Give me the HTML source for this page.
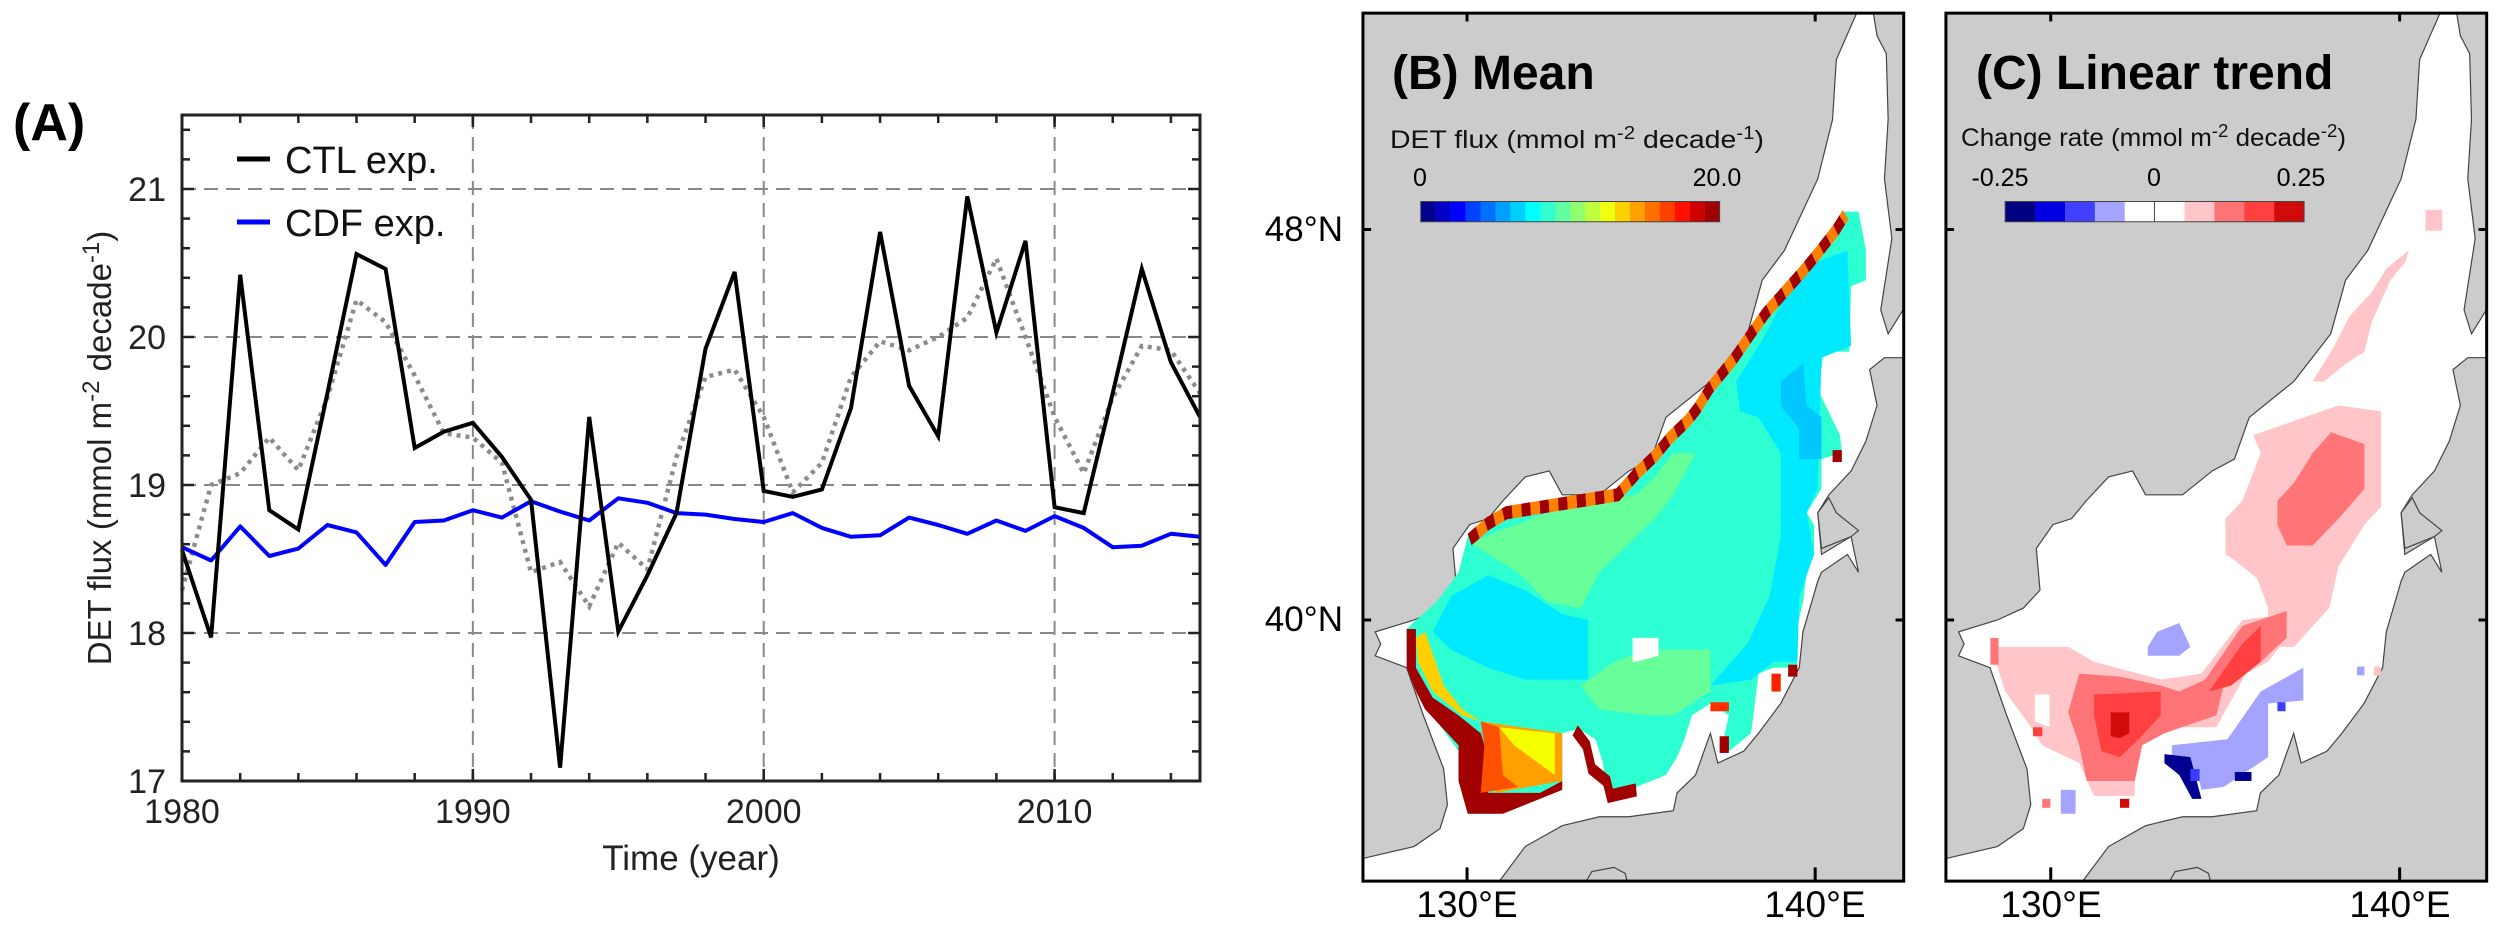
<!DOCTYPE html>
<html><head><meta charset="utf-8"><style>
html,body{margin:0;padding:0;background:#fff;}
#root{position:relative;width:2500px;height:930px;overflow:hidden;font-family:"Liberation Sans",Arial,sans-serif;}
svg{position:absolute;overflow:hidden;}
</style></head><body>
<div id="root">

<svg id="chartA" style="left:0;top:0" width="1340" height="930" viewBox="0 0 1340 930"></svg>

<svg style="left:1340px;top:0" width="580" height="930" viewBox="0 0 1566 1560" preserveAspectRatio="none">
  <defs>
    <clipPath id="clipB"><rect x="62" y="22" width="1460" height="1456"/></clipPath>
    <clipPath id="clipC"><rect x="70" y="22" width="1460" height="1456"/></clipPath>
    <g id="geo">
      <rect x="0" y="0" width="1566" height="1560" fill="#cccccc"/>
      <polygon fill="#ffffff" stroke="#444" stroke-width="1.2" vector-effect="non-scaling-stroke" points="1395,22 1440,22 1450,60 1475,90 1480,200 1470,300 1490,400 1460,520 1480,560 1530,510 1530,600 1470,600 1430,620 1450,680 1420,740 1380,790 1320,830 1290,860 1300,930 1380,900 1400,960 1370,930 1300,960 1290,975 1250,1060 1240,1120 1190,1180 1130,1230 1090,1260 1020,1280 1000,1230 960,1300 910,1330 900,1360 780,1370 700,1370 600,1385 500,1420 440,1470 430,1478 62,1478 62,1440 200,1420 270,1390 290,1350 280,1290 225,1200 180,1120 95,1100 110,1080 95,1060 200,1040 270,1020 315,990 305,920 350,880 400,870 440,840 500,800 565,790 600,830 700,830 780,790 840,770 880,700 1000,640 1100,560 1140,470 1200,420 1290,300 1330,200 1340,100"/>
      <polygon fill="#cccccc" stroke="#444" stroke-width="1.2" vector-effect="non-scaling-stroke" points="665,1478 680,1462 740,1455 770,1465 775,1478"/>
      <polygon fill="#cccccc" stroke="#444" stroke-width="1.2" vector-effect="non-scaling-stroke" points="1290,860 1320,835 1340,860 1400,890 1380,900 1300,920"/>
    </g>
  </defs>
  <g clip-path="url(#clipB)"><use href="#geo"/></g>
  <g>
    <polygon fill="#2effd2" points="1360,355 1400,355 1420,420 1420,470 1380,480 1375,590 1305,590 1300,620 1280,640 1350,730 1355,760 1300,770 1300,820 1260,860 1280,880 1280,930 1260,960 1250,1010 1235,1050 1235,1120 1170,1120 1130,1130 1110,1230 1080,1245 1050,1260 1030,1255 1050,1200 1000,1180 950,1200 930,1240 910,1270 880,1300 840,1310 800,1320 720,1335 710,1280 690,1240 650,1225 630,1225 600,1230 600,1320 500,1340 430,1365 345,1365 320,1310 320,1260 250,1200 205,1150 180,1100 180,1055 205,1040 260,1010 320,960 345,900 400,870 440,855 600,840 740,830 800,790 840,760 890,730 960,680 1020,640 1080,590 1130,540 1170,510 1240,460 1280,420 1340,380"/>
    <polygon fill="#00eaff" points="300,1000 400,965 500,990 600,1030 670,1040 670,1140 500,1140 400,1120 300,1090 250,1060"/>
    <polygon fill="#00eaff" points="1240,450 1370,420 1380,580 1300,600 1290,820 1260,860 1280,930 1240,1000 1235,1110 1170,1110 1110,1140 1000,1150 1100,1080 1160,1000 1190,900 1190,760 1130,700 1080,690 1070,640 1150,560"/>
    <polygon fill="#00c8ff" points="1190,640 1250,610 1260,680 1300,700 1300,770 1240,770 1240,720 1190,680"/>
    <polygon fill="#66ff99" points="350,910 600,850 800,830 850,800 900,760 960,760 900,830 850,870 800,900 700,960 650,1020 560,1010 480,960 400,930"/>
    <polygon fill="#66ff99" points="650,1150 740,1110 830,1090 1000,1090 1000,1160 900,1200 830,1200 700,1190"/>
    <polygon fill="#ffffff" points="790,1070 860,1070 860,1100 800,1110 790,1110"/>
    <polygon fill="#a00000" points="180,1055 205,1055 205,1120 250,1170 320,1200 380,1230 390,1250 400,1330 540,1330 600,1310 600,1325 440,1365 345,1365 320,1310 320,1250 230,1190 205,1160 180,1120"/>
    <polygon fill="#ffa000" points="380,1210 600,1230 600,1310 420,1330 390,1250"/>
    <polygon fill="#ff5000" points="380,1210 430,1220 440,1300 480,1320 380,1330 390,1250"/>
    <polygon fill="#f5ff00" points="430,1220 580,1230 580,1300 470,1250"/>
    <polygon fill="#ffd000" points="205,1070 230,1060 280,1150 330,1190 380,1210 330,1200 250,1160 210,1110"/>
    <polyline fill="none" stroke="#a00000" stroke-width="22" points="635,1225 665,1250 680,1290 720,1310 730,1335 800,1325"/>
    <polyline fill="none" stroke="#a00000" stroke-width="22" stroke-dasharray="25 25" points="350,905 400,878 450,860 600,845 750,830 800,795 850,765 890,735 940,705 965,685 1000,650 1060,605 1110,560 1150,525 1200,490 1250,455 1290,425 1340,385 1365,360"/>
    <polyline fill="none" stroke="#ff8000" stroke-width="22" stroke-dasharray="25 25" stroke-dashoffset="25" points="350,905 400,878 450,860 600,845 750,830 800,795 850,765 890,735 940,705 965,685 1000,650 1060,605 1110,560 1150,525 1200,490 1250,455 1290,425 1340,385 1365,360"/>
    <rect x="1330" y="755" width="25" height="20" fill="#a00000"/>
    <rect x="1165" y="1130" width="25" height="30" fill="#ff2000"/>
    <rect x="1210" y="1115" width="25" height="20" fill="#a00000"/>
    <rect x="1025" y="1235" width="25" height="28" fill="#a00000"/>
    <rect x="1000" y="1178" width="50" height="15" fill="#ff3000"/>
  </g>
  <g id="cbB"></g>
  <rect x="62" y="22" width="1460" height="1456" fill="none" stroke="#000" stroke-width="3" vector-effect="non-scaling-stroke"/>
  <g stroke="#000" stroke-width="3">
    <line x1="343" y1="1478" x2="343" y2="1455" vector-effect="non-scaling-stroke"/><line x1="1283" y1="1478" x2="1283" y2="1455" vector-effect="non-scaling-stroke"/>
    <line x1="343" y1="22" x2="343" y2="36" vector-effect="non-scaling-stroke"/><line x1="1283" y1="22" x2="1283" y2="36" vector-effect="non-scaling-stroke"/>
    <line x1="62" y1="385" x2="84" y2="385" vector-effect="non-scaling-stroke"/><line x1="62" y1="1040" x2="84" y2="1040" vector-effect="non-scaling-stroke"/>
    <line x1="1522" y1="385" x2="1500" y2="385" vector-effect="non-scaling-stroke"/><line x1="1522" y1="1040" x2="1500" y2="1040" vector-effect="non-scaling-stroke"/>
  </g>
</svg>

<svg style="left:1920px;top:0" width="580" height="930" viewBox="0 0 1566 1560" preserveAspectRatio="none">
  <defs>
    <clipPath id="clipC2"><rect x="70" y="22" width="1460" height="1456"/></clipPath>
  </defs>
  <g clip-path="url(#clipC2)"><use href="#geo" transform="translate(9,0)"/></g>
  <g>
    <polygon fill="#ffc5c8" points="900,730 1130,680 1245,690 1245,850 1200,880 1130,950 1105,1020 1060,1050 1010,1085 940,1085 940,1020 910,970 850,940 825,930 825,870 870,840 920,760"/>
    <polygon fill="#ffc5c8" points="1060,640 1110,590 1160,530 1220,490 1260,450 1320,420 1310,440 1270,470 1220,540 1200,590 1150,610 1090,640"/>
    <polygon fill="#ffc5c8" points="190,1085 400,1085 470,1110 650,1140 760,1130 870,1040 990,1030 990,1070 940,1110 880,1130 800,1220 680,1220 600,1240 580,1300 580,1335 470,1335 430,1280 330,1250 300,1220 230,1160 210,1120"/>
    <polygon fill="#ffffff" points="310,1165 350,1165 350,1220 310,1210"/>
    <polygon fill="#ff7577" points="965,840 1010,810 1060,760 1110,725 1200,745 1200,820 1130,870 1060,915 990,915 965,880"/>
    <polygon fill="#ff7577" points="400,1195 430,1130 540,1135 650,1150 700,1160 770,1140 870,1050 990,1025 990,1070 920,1110 820,1150 800,1200 660,1230 600,1250 580,1310 450,1310 430,1250"/>
    <polygon fill="#ff4040" points="470,1165 650,1160 650,1200 590,1240 540,1270 490,1260 470,1200"/>
    <polygon fill="#ff4040" points="780,1160 870,1080 920,1050 920,1110 840,1150"/>
    <polygon fill="#d10a0a" points="515,1195 565,1195 565,1230 540,1238 515,1235"/>
    <rect x="190" y="1070" width="22" height="45" fill="#ff7577"/>
    <polygon fill="#a4a4ff" points="615,1085 640,1060 700,1045 730,1085 700,1100 615,1100"/>
    <polygon fill="#a4a4ff" points="680,1250 830,1240 920,1160 1035,1120 1035,1175 940,1180 940,1270 820,1320 760,1325 750,1300 680,1290"/>
    <polygon fill="#000090" points="660,1265 730,1270 760,1340 735,1340 700,1300 660,1280"/>
    <rect x="730" y="1290" width="25" height="20" fill="#3c3cff"/>
    <rect x="850" y="1295" width="45" height="15" fill="#000090"/>
    <rect x="965" y="1178" width="22" height="15" fill="#3c3cff"/>
    <rect x="1365" y="352" width="45" height="35" fill="#ffc5c8"/>
    <rect x="1180" y="1118" width="20" height="15" fill="#a4a4ff"/>
    <rect x="1225" y="1118" width="20" height="15" fill="#ffc5c8"/>
    <rect x="330" y="1340" width="22" height="15" fill="#ff7577"/>
    <rect x="380" y="1325" width="40" height="40" fill="#a4a4ff"/>
    <rect x="540" y="1340" width="25" height="15" fill="#d10a0a"/>
    <rect x="305" y="1220" width="25" height="15" fill="#ff4040"/>
  </g>
  <g id="cbC"></g>
  <rect x="70" y="22" width="1460" height="1456" fill="none" stroke="#000" stroke-width="3" vector-effect="non-scaling-stroke"/>
  <g stroke="#000" stroke-width="3">
    <line x1="353" y1="1478" x2="353" y2="1455" vector-effect="non-scaling-stroke"/><line x1="1295" y1="1478" x2="1295" y2="1455" vector-effect="non-scaling-stroke"/>
    <line x1="353" y1="22" x2="353" y2="36" vector-effect="non-scaling-stroke"/><line x1="1295" y1="22" x2="1295" y2="36" vector-effect="non-scaling-stroke"/>
    <line x1="70" y1="385" x2="92" y2="385" vector-effect="non-scaling-stroke"/><line x1="70" y1="1040" x2="92" y2="1040" vector-effect="non-scaling-stroke"/>
    <line x1="1530" y1="385" x2="1508" y2="385" vector-effect="non-scaling-stroke"/><line x1="1530" y1="1040" x2="1508" y2="1040" vector-effect="non-scaling-stroke"/>
  </g>
</svg>

<svg style="left:0;top:0;pointer-events:none" width="2500" height="930" viewBox="0 0 2500 930">
  <text x="1392" y="89" font-size="48" font-weight="bold" fill="#000">(B) Mean</text>
  <text x="1390" y="148" font-size="25" fill="#111" textLength="374" lengthAdjust="spacingAndGlyphs">DET flux (mmol m<tspan dy="-9" font-size="18">-2</tspan><tspan dy="9"> decade</tspan><tspan dy="-9" font-size="18">-1</tspan><tspan dy="9">)</tspan></text>
  <text x="1420" y="186" font-size="25" text-anchor="middle">0</text>
  <text x="1717" y="186" font-size="25" text-anchor="middle">20.0</text>
  <text x="1343" y="241" font-size="35" text-anchor="end">48°N</text>
  <text x="1343" y="631" font-size="35" text-anchor="end">40°N</text>
  <text x="1467" y="917" font-size="37" text-anchor="middle">130°E</text>
  <text x="1815" y="917" font-size="37" text-anchor="middle">140°E</text>
  <text x="1976" y="89" font-size="48" font-weight="bold" fill="#000">(C) Linear trend</text>
  <text x="1961" y="146" font-size="25" fill="#111" textLength="385" lengthAdjust="spacingAndGlyphs">Change rate (mmol m<tspan dy="-9" font-size="18">-2</tspan><tspan dy="9"> decade</tspan><tspan dy="-9" font-size="18">-2</tspan><tspan dy="9">)</tspan></text>
  <text x="2000" y="186" font-size="25" text-anchor="middle">-0.25</text>
  <text x="2154" y="186" font-size="25" text-anchor="middle">0</text>
  <text x="2301" y="186" font-size="25" text-anchor="middle">0.25</text>
  <text x="2051" y="917" font-size="37" text-anchor="middle">130°E</text>
  <text x="2400" y="917" font-size="37" text-anchor="middle">140°E</text>
</svg>
</div>

<script>
// ---- Panel A data ----
const years = [1980,1981,1982,1983,1984,1985,1986,1987,1988,1989,1990,1991,1992,1993,1994,1995,1996,1997,1998,1999,2000,2001,2002,2003,2004,2005,2006,2007,2008,2009,2010,2011,2012,2013,2014,2015];
const ctlValues = [18.56,17.97,20.42,18.83,18.70,19.62,20.56,20.46,19.25,19.36,19.42,19.19,18.90,17.09,19.46,18.01,18.39,18.81,19.92,20.44,18.96,18.92,18.97,19.52,20.71,19.67,19.33,20.95,20.03,20.65,18.85,18.81,19.62,20.46,19.83,19.46];
const cdfValues = [18.58,18.49,18.72,18.52,18.57,18.73,18.68,18.46,18.75,18.76,18.83,18.78,18.89,18.82,18.76,18.91,18.88,18.81,18.80,18.77,18.75,18.81,18.71,18.65,18.66,18.78,18.73,18.67,18.76,18.69,18.79,18.71,18.58,18.59,18.67,18.65];
const smoothValues = [18.29,19.00,19.08,19.32,19.10,19.59,20.25,20.10,19.74,19.35,19.32,19.15,18.41,18.48,18.18,18.61,18.43,19.19,19.73,19.78,19.46,18.95,19.15,19.73,19.97,19.91,20.00,20.13,20.53,20.00,19.46,19.08,19.59,19.94,19.91,19.62];
const yTicks = [17,18,19,20,21];
const xTicks = [1980,1990,2000,2010];
const legendLabels = ["CTL exp.","CDF exp."];
const jetColors = ["#00008f","#0000c8","#0000ff","#0040ff","#0070ff","#00a0ff","#00d0ff","#00ffff","#30ffd0","#60ff9f","#90ff70","#c0ff40","#f0ff10","#ffd000","#ffa000","#ff7000","#ff4000","#ff1000","#d00000","#a00000"];
const trendColors = ["#000080","#0000e0","#4040ff","#a4a4ff","#ffffff","#ffffff","#ffc5c8","#ff7577","#ff4040","#d10a0a"];

const NS = "http://www.w3.org/2000/svg";
const L = 182, R = 1200, T = 115, B = 781;
const xMin = 1980, xMax = 2015, yMin = 17, yMax = 21.5;
function xs(v){ return L + (v - xMin) / (xMax - xMin) * (R - L); }
function ys(v){ return B - (v - yMin) / (yMax - yMin) * (B - T); }
function mk(tag, attrs, parent){ const e = document.createElementNS(NS, tag); for (const k in attrs) e.setAttribute(k, attrs[k]); parent.appendChild(e); return e; }

const svg = document.getElementById('chartA');
const grid = mk('g', {}, svg);


yTicks.slice(1).forEach(v => mk('line', {x1:L, x2:R, y1:ys(v), y2:ys(v), stroke:'#888', 'stroke-width':2, 'stroke-dasharray':'14 8'}, grid));
xTicks.slice(1).forEach(v => mk('line', {x1:xs(v), x2:xs(v), y1:T, y2:B, stroke:'#888', 'stroke-width':2, 'stroke-dasharray':'14 8'}, grid));
const ticks = mk('g', {stroke:'#222', 'stroke-width':2.5}, svg);
for (let v = 17; v <= 21.5001; v += 0.2) {
  const len = (Math.abs(v - Math.round(v)) < 0.01) ? 12 : 8;
  mk('line', {x1:L, x2:L+len, y1:ys(v), y2:ys(v)}, ticks);
  mk('line', {x1:R, x2:R-len, y1:ys(v), y2:ys(v)}, ticks);
}
for (let v = 1982; v < 2015; v += 2) {
  mk('line', {x1:xs(v), x2:xs(v), y1:B, y2:B-8}, ticks);
  mk('line', {x1:xs(v), x2:xs(v), y1:T, y2:T+8}, ticks);
}
xTicks.forEach(v => { mk('line', {x1:xs(v), x2:xs(v), y1:B, y2:B-12}, ticks); mk('line', {x1:xs(v), x2:xs(v), y1:T, y2:T+12}, ticks); });
yTicks.forEach(v => {
  const t = mk('text', {x:166, y:ys(v)+12, 'font-size':34, 'text-anchor':'end', fill:'#222'}, svg);
  
  
  t.textContent = v;
});
xTicks.forEach(v => {
  const t = mk('text', {x:xs(v), y:823, 'font-size':34, 'text-anchor':'middle', fill:'#222'}, svg);
  
  
  t.textContent = v;
});
function pts(vals){ return vals.map((v,i) => xs(years[i]).toFixed(1) + ',' + ys(v).toFixed(1)).join(' '); }
const sm = mk('polyline', {points:pts(smoothValues), fill:'none', stroke:'#8c8c8c', 'stroke-width':4.5, 'stroke-dasharray':'4 5'}, svg);


const cdf = mk('polyline', {points:pts(cdfValues), fill:'none', stroke:'#0000ff', 'stroke-width':4, 'stroke-linejoin':'round'}, svg);


const ctl = mk('polyline', {points:pts(ctlValues), fill:'none', stroke:'#000', 'stroke-width':4, 'stroke-linejoin':'miter'}, svg);


const fr = mk('rect', {x:L, y:T, width:R-L, height:B-T, fill:'none', stroke:'#222', 'stroke-width':3}, svg);


const lg = mk('g', {}, svg);


[['#000',159],['#0000ff',222]].forEach((c,i) => {
  mk('line', {x1:237, x2:270, y1:c[1], y2:c[1], stroke:c[0], 'stroke-width':5}, lg);
  const t = mk('text', {x:285, y:c[1]+14, 'font-size':38, fill:'#111'}, lg);
  
  
  t.textContent = legendLabels[i];
});
const pa = mk('text', {x:13, y:140, 'font-size':52, 'font-weight':'bold', fill:'#000'}, svg);


pa.textContent = '(A)';
const xt = mk('text', {x:(L+R)/2, y:870, 'font-size':35, 'text-anchor':'middle', fill:'#222'}, svg);


xt.textContent = 'Time (year)';
const yt = mk('text', {x:0, y:0, 'font-size':33, 'text-anchor':'middle', fill:'#222', transform:'translate(111,' + ((T+B)/2) + ') rotate(-90)'}, svg);


yt.innerHTML = 'DET flux (mmol m<tspan dy="-12" font-size="24">-2</tspan><tspan dy="12"> decade</tspan><tspan dy="-12" font-size="24">-1</tspan><tspan dy="12">)</tspan>';

function colorbar(gid, colors, x0, x1, y0, y1){
  const g = document.getElementById(gid);
  const w = (x1 - x0) / colors.length;
  colors.forEach((c,i) => {
    const r = mk('rect', {x:x0 + i*w, y:y0, width:w+0.5, height:y1-y0, fill:c}, g);
    
    
  });
  mk('rect', {x:x0, y:y0, width:x1-x0, height:y1-y0, fill:'none', stroke:'#444', 'stroke-width':1, 'vector-effect':'non-scaling-stroke'}, g);
}
colorbar('cbB', jetColors, 218, 1025, 338, 372);
colorbar('cbC', trendColors, 230, 1037, 338, 372);
mk('line', {x1:633, x2:633, y1:338, y2:372, stroke:'#444', 'stroke-width':1, 'vector-effect':'non-scaling-stroke'}, document.getElementById('cbC'));
</script>
</body></html>
